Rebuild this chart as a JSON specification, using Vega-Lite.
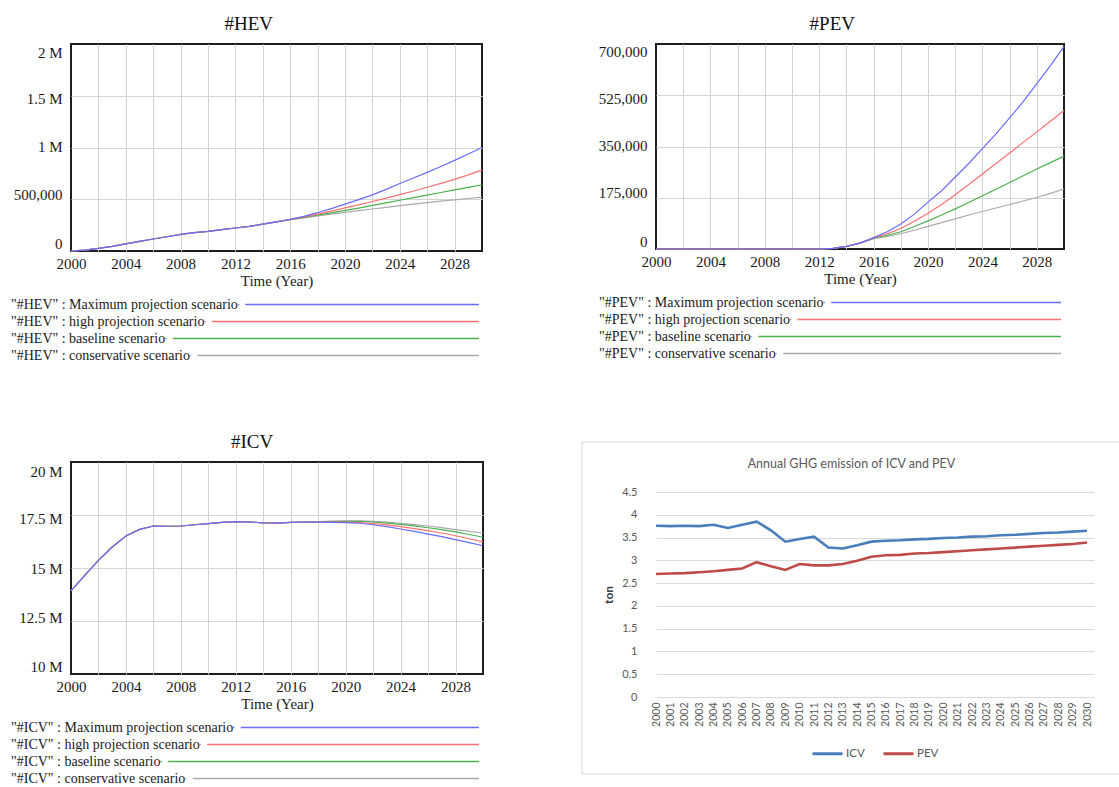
{
  "$schema": "https://vega.github.io/schema/vega-lite/v6.json",
  "background": "white",
  "padding": {"left": 10, "top": 14, "right": 0, "bottom": 0},
  "config": {
    "view": {"stroke": null},
    "axis": {
      "grid": true, "gridColor": "#d4d4d4", "gridWidth": 1, "domain": false, "ticks": false,
      "labelFont": "Liberation Serif", "labelFontSize": 15, "labelColor": "#1a1a1a",
      "titleFont": "Liberation Serif", "titleFontSize": 15, "titleFontWeight": "normal", "titleColor": "#1a1a1a",
      "labelFlush": false, "labelOverlap": false
    },
    "axisX": {"labelPadding": 5, "titlePadding": 2},
    "axisY": {"labelPadding": 9, "minExtent": 0},
    "legend": {"layout": {"bottom": {"anchor": "middle"}}}
  },
  "resolve": {"scale": {"stroke": "independent"}, "legend": {"stroke": "independent"}},
  "datasets": {
    "hev": [
      {"year": 2000, "max": 0, "high": 0, "base": 0, "cons": 0},
      {"year": 2001, "max": 8000, "high": 8000, "base": 8000, "cons": 8000},
      {"year": 2002, "max": 25000, "high": 25000, "base": 25000, "cons": 25000},
      {"year": 2003, "max": 45000, "high": 45000, "base": 45000, "cons": 45000},
      {"year": 2004, "max": 68000, "high": 68000, "base": 68000, "cons": 68000},
      {"year": 2005, "max": 93000, "high": 93000, "base": 93000, "cons": 93000},
      {"year": 2006, "max": 116000, "high": 116000, "base": 116000, "cons": 116000},
      {"year": 2007, "max": 138000, "high": 138000, "base": 138000, "cons": 138000},
      {"year": 2008, "max": 160000, "high": 160000, "base": 160000, "cons": 160000},
      {"year": 2009, "max": 177000, "high": 177000, "base": 177000, "cons": 177000},
      {"year": 2010, "max": 190000, "high": 190000, "base": 190000, "cons": 190000},
      {"year": 2011, "max": 206000, "high": 206000, "base": 206000, "cons": 206000},
      {"year": 2012, "max": 222000, "high": 222000, "base": 222000, "cons": 222000},
      {"year": 2013, "max": 238000, "high": 238000, "base": 238000, "cons": 238000},
      {"year": 2014, "max": 259000, "high": 259000, "base": 259000, "cons": 259000},
      {"year": 2015, "max": 282000, "high": 282000, "base": 282000, "cons": 282000},
      {"year": 2016, "max": 306000, "high": 305000, "base": 303000, "cons": 302000},
      {"year": 2017, "max": 335000, "high": 330000, "base": 325000, "cons": 320000},
      {"year": 2018, "max": 370000, "high": 356000, "base": 346000, "cons": 338000},
      {"year": 2019, "max": 410000, "high": 385000, "base": 369000, "cons": 356000},
      {"year": 2020, "max": 453000, "high": 416000, "base": 392000, "cons": 373000},
      {"year": 2021, "max": 497000, "high": 446000, "base": 415000, "cons": 390000},
      {"year": 2022, "max": 542000, "high": 478000, "base": 440000, "cons": 406000},
      {"year": 2023, "max": 595000, "high": 511000, "base": 465000, "cons": 422000},
      {"year": 2024, "max": 652000, "high": 545000, "base": 490000, "cons": 438000},
      {"year": 2025, "max": 705000, "high": 580000, "base": 515000, "cons": 453000},
      {"year": 2026, "max": 760000, "high": 616000, "base": 540000, "cons": 467000},
      {"year": 2027, "max": 817000, "high": 653000, "base": 565000, "cons": 481000},
      {"year": 2028, "max": 876000, "high": 692000, "base": 590000, "cons": 494000},
      {"year": 2029, "max": 937000, "high": 735000, "base": 615000, "cons": 507000},
      {"year": 2030, "max": 1000000, "high": 782000, "base": 640000, "cons": 520000}
    ],
    "pev": [
      {"year": 2000, "max": 0, "high": 0, "base": 0, "cons": 0},
      {"year": 2001, "max": 0, "high": 0, "base": 0, "cons": 0},
      {"year": 2002, "max": 0, "high": 0, "base": 0, "cons": 0},
      {"year": 2003, "max": 0, "high": 0, "base": 0, "cons": 0},
      {"year": 2004, "max": 0, "high": 0, "base": 0, "cons": 0},
      {"year": 2005, "max": 0, "high": 0, "base": 0, "cons": 0},
      {"year": 2006, "max": 0, "high": 0, "base": 0, "cons": 0},
      {"year": 2007, "max": 0, "high": 0, "base": 0, "cons": 0},
      {"year": 2008, "max": 0, "high": 0, "base": 0, "cons": 0},
      {"year": 2009, "max": 0, "high": 0, "base": 0, "cons": 0},
      {"year": 2010, "max": 0, "high": 0, "base": 0, "cons": 0},
      {"year": 2011, "max": 0, "high": 0, "base": 0, "cons": 0},
      {"year": 2012, "max": 0, "high": 0, "base": 0, "cons": 0},
      {"year": 2013, "max": 2000, "high": 2000, "base": 2000, "cons": 2000},
      {"year": 2014, "max": 9000, "high": 9000, "base": 9000, "cons": 9000},
      {"year": 2015, "max": 20000, "high": 20000, "base": 20000, "cons": 20000},
      {"year": 2016, "max": 39000, "high": 38000, "base": 36000, "cons": 35000},
      {"year": 2017, "max": 59000, "high": 52000, "base": 47000, "cons": 43000},
      {"year": 2018, "max": 85000, "high": 70000, "base": 59000, "cons": 52000},
      {"year": 2019, "max": 119000, "high": 95000, "base": 77000, "cons": 64000},
      {"year": 2020, "max": 160000, "high": 122000, "base": 96000, "cons": 77000},
      {"year": 2021, "max": 199000, "high": 152000, "base": 116000, "cons": 90000},
      {"year": 2022, "max": 246000, "high": 185000, "base": 137000, "cons": 103000},
      {"year": 2023, "max": 292000, "high": 220000, "base": 159000, "cons": 116000},
      {"year": 2024, "max": 343000, "high": 256000, "base": 182000, "cons": 128000},
      {"year": 2025, "max": 393000, "high": 292000, "base": 204000, "cons": 140000},
      {"year": 2026, "max": 448000, "high": 328000, "base": 227000, "cons": 152000},
      {"year": 2027, "max": 503000, "high": 364000, "base": 250000, "cons": 164000},
      {"year": 2028, "max": 565000, "high": 400000, "base": 273000, "cons": 176000},
      {"year": 2029, "max": 626000, "high": 436000, "base": 295000, "cons": 190000},
      {"year": 2030, "max": 691000, "high": 473000, "base": 317000, "cons": 205000}
    ],
    "icv": [
      {"year": 2000, "max": 13920000, "high": 13920000, "base": 13920000, "cons": 13920000},
      {"year": 2001, "max": 14650000, "high": 14650000, "base": 14650000, "cons": 14650000},
      {"year": 2002, "max": 15360000, "high": 15360000, "base": 15360000, "cons": 15360000},
      {"year": 2003, "max": 15990000, "high": 15990000, "base": 15990000, "cons": 15990000},
      {"year": 2004, "max": 16510000, "high": 16510000, "base": 16510000, "cons": 16510000},
      {"year": 2005, "max": 16820000, "high": 16820000, "base": 16820000, "cons": 16820000},
      {"year": 2006, "max": 16980000, "high": 16980000, "base": 16980000, "cons": 16980000},
      {"year": 2007, "max": 16970000, "high": 16970000, "base": 16970000, "cons": 16970000},
      {"year": 2008, "max": 16980000, "high": 16980000, "base": 16980000, "cons": 16980000},
      {"year": 2009, "max": 17040000, "high": 17040000, "base": 17040000, "cons": 17040000},
      {"year": 2010, "max": 17090000, "high": 17090000, "base": 17090000, "cons": 17090000},
      {"year": 2011, "max": 17150000, "high": 17150000, "base": 17150000, "cons": 17150000},
      {"year": 2012, "max": 17190000, "high": 17190000, "base": 17190000, "cons": 17190000},
      {"year": 2013, "max": 17170000, "high": 17170000, "base": 17170000, "cons": 17170000},
      {"year": 2014, "max": 17130000, "high": 17130000, "base": 17130000, "cons": 17130000},
      {"year": 2015, "max": 17120000, "high": 17120000, "base": 17120000, "cons": 17120000},
      {"year": 2016, "max": 17150000, "high": 17150000, "base": 17150000, "cons": 17150000},
      {"year": 2017, "max": 17170000, "high": 17170000, "base": 17170000, "cons": 17170000},
      {"year": 2018, "max": 17160000, "high": 17170000, "base": 17180000, "cons": 17190000},
      {"year": 2019, "max": 17150000, "high": 17160000, "base": 17190000, "cons": 17210000},
      {"year": 2020, "max": 17140000, "high": 17160000, "base": 17200000, "cons": 17220000},
      {"year": 2021, "max": 17110000, "high": 17140000, "base": 17200000, "cons": 17220000},
      {"year": 2022, "max": 17040000, "high": 17100000, "base": 17170000, "cons": 17200000},
      {"year": 2023, "max": 16950000, "high": 17030000, "base": 17120000, "cons": 17160000},
      {"year": 2024, "max": 16840000, "high": 16950000, "base": 17060000, "cons": 17110000},
      {"year": 2025, "max": 16730000, "high": 16860000, "base": 16990000, "cons": 17050000},
      {"year": 2026, "max": 16600000, "high": 16760000, "base": 16900000, "cons": 16980000},
      {"year": 2027, "max": 16480000, "high": 16650000, "base": 16810000, "cons": 16900000},
      {"year": 2028, "max": 16340000, "high": 16520000, "base": 16700000, "cons": 16810000},
      {"year": 2029, "max": 16200000, "high": 16380000, "base": 16580000, "cons": 16730000},
      {"year": 2030, "max": 16050000, "high": 16230000, "base": 16450000, "cons": 16650000}
    ],
    "ghg": [
      {"year": 2000, "ICV": 3.76, "PEV": 2.70},
      {"year": 2001, "ICV": 3.75, "PEV": 2.71},
      {"year": 2002, "ICV": 3.76, "PEV": 2.72},
      {"year": 2003, "ICV": 3.75, "PEV": 2.74},
      {"year": 2004, "ICV": 3.78, "PEV": 2.76},
      {"year": 2005, "ICV": 3.71, "PEV": 2.79},
      {"year": 2006, "ICV": 3.78, "PEV": 2.82},
      {"year": 2007, "ICV": 3.85, "PEV": 2.96},
      {"year": 2008, "ICV": 3.66, "PEV": 2.87},
      {"year": 2009, "ICV": 3.41, "PEV": 2.79},
      {"year": 2010, "ICV": 3.47, "PEV": 2.92},
      {"year": 2011, "ICV": 3.52, "PEV": 2.89},
      {"year": 2012, "ICV": 3.28, "PEV": 2.89},
      {"year": 2013, "ICV": 3.26, "PEV": 2.92},
      {"year": 2014, "ICV": 3.33, "PEV": 2.99},
      {"year": 2015, "ICV": 3.41, "PEV": 3.08},
      {"year": 2016, "ICV": 3.43, "PEV": 3.11},
      {"year": 2017, "ICV": 3.44, "PEV": 3.12},
      {"year": 2018, "ICV": 3.46, "PEV": 3.15},
      {"year": 2019, "ICV": 3.47, "PEV": 3.16},
      {"year": 2020, "ICV": 3.49, "PEV": 3.18},
      {"year": 2021, "ICV": 3.50, "PEV": 3.20},
      {"year": 2022, "ICV": 3.52, "PEV": 3.22},
      {"year": 2023, "ICV": 3.53, "PEV": 3.24},
      {"year": 2024, "ICV": 3.55, "PEV": 3.26},
      {"year": 2025, "ICV": 3.56, "PEV": 3.28},
      {"year": 2026, "ICV": 3.58, "PEV": 3.30},
      {"year": 2027, "ICV": 3.60, "PEV": 3.32},
      {"year": 2028, "ICV": 3.61, "PEV": 3.34},
      {"year": 2029, "ICV": 3.63, "PEV": 3.36},
      {"year": 2030, "ICV": 3.65, "PEV": 3.39}
    ]
  },
  "hconcat": [
    {
      "vconcat": [
        {
          "vconcat": [
            {
              "width": 411, "height": 207,
              "view": {"stroke": "#1e1e1e", "strokeWidth": 2},
              "title": {"text": "#HEV", "font": "Liberation Serif", "fontSize": 19, "fontWeight": "normal", "color": "#111111", "baseline": "bottom", "offset": -9, "frame": "bounds"},
              "data": {"name": "hev"},
              "transform": [{"fold": ["cons", "base", "high", "max"], "as": ["scenario", "value"]}],
              "mark": {"type": "line", "strokeWidth": 1.2},
              "encoding": {
                "x": {"field": "year", "type": "quantitative", "scale": {"domain": [2000, 2030], "nice": false, "zero": false},
                  "axis": {"values": [2000, 2002, 2004, 2006, 2008, 2010, 2012, 2014, 2016, 2018, 2020, 2022, 2024, 2026, 2028, 2030], "format": "d",
                    "labelExpr": "datum.value % 4 == 0 && datum.value < 2030 ? datum.label : ''", "title": "Time (Year)",
                    "gridOpacity": {"condition": {"test": "datum.value == 2000 || datum.value == 2030", "value": 0}, "value": 1}}},
                "y": {"field": "value", "type": "quantitative", "scale": {"domain": [0, 2000000], "nice": false},
                  "axis": {"values": [0, 500000, 1000000, 1500000, 2000000], "title": null,
                    "labelExpr": "datum.value >= 1000000 ? format(datum.value / 1000000, '~g') + ' M' : format(datum.value, ',')",
                    "labelOffset": {"condition": [{"test": "datum.value == 2000000", "value": 8}, {"test": "datum.value == 1500000", "value": 3}, {"test": "datum.value == 1000000", "value": -1}, {"test": "datum.value == 500000", "value": -5}], "value": -8},
                    "gridOpacity": {"condition": {"test": "datum.value == 0 || datum.value == 2000000", "value": 0}, "value": 1}}},
                "color": {"field": "scenario", "type": "nominal", "scale": {"domain": ["max", "high", "base", "cons"], "range": ["#6b6bff", "#ff7070", "#4caf50", "#aaaaaa"]}, "legend": null}
              }
            },
            {
              "width": 408, "height": 68,
              "data": {"values": [
                {"label": "\"#HEV\" : Maximum projection scenario", "scenario": "max"},
                {"label": "\"#HEV\" : high projection scenario", "scenario": "high"},
                {"label": "\"#HEV\" : baseline scenario", "scenario": "base"},
                {"label": "\"#HEV\" : conservative scenario", "scenario": "cons"}
              ]},
              "encoding": {
                "y": {"field": "label", "type": "nominal", "sort": null, "axis": null, "scale": {"paddingInner": 0, "paddingOuter": 0}},
                "x": {"datum": -0.147, "type": "quantitative", "scale": {"domain": [0, 1], "nice": false, "zero": false}, "axis": null}
              },
              "layer": [
                {"mark": {"type": "rule", "strokeWidth": 1.3}, "encoding": {"x2": {"datum": 1}, "color": {"field": "scenario", "type": "nominal", "scale": {"domain": ["max", "high", "base", "cons"], "range": ["#6b6bff", "#ff7070", "#4caf50", "#aaaaaa"]}, "legend": null}}},
                {"mark": {"type": "text", "align": "left", "baseline": "middle", "font": "Liberation Serif", "fontSize": 14, "fill": "white", "stroke": "white", "strokeWidth": 16, "strokeJoin": "round"}, "encoding": {"text": {"field": "label"}}},
                {"mark": {"type": "text", "align": "left", "baseline": "middle", "font": "Liberation Serif", "fontSize": 14, "fill": "#1a1a1a"}, "encoding": {"text": {"field": "label"}}}
              ]
            }
          ],
          "spacing": 7
        },
        {
          "vconcat": [
            {
              "width": 412, "height": 212,
              "view": {"stroke": "#1e1e1e", "strokeWidth": 2},
              "title": {"text": "#ICV", "font": "Liberation Serif", "fontSize": 19, "fontWeight": "normal", "color": "#111111", "baseline": "bottom", "offset": -9, "frame": "bounds"},
              "data": {"name": "icv"},
              "transform": [{"fold": ["cons", "base", "high", "max"], "as": ["scenario", "value"]}],
              "mark": {"type": "line", "strokeWidth": 1.2},
              "encoding": {
                "x": {"field": "year", "type": "quantitative", "scale": {"domain": [2000, 2030], "nice": false, "zero": false},
                  "axis": {"values": [2000, 2002, 2004, 2006, 2008, 2010, 2012, 2014, 2016, 2018, 2020, 2022, 2024, 2026, 2028, 2030], "format": "d",
                    "labelExpr": "datum.value % 4 == 0 && datum.value < 2030 ? datum.label : ''", "title": "Time (Year)",
                    "gridOpacity": {"condition": {"test": "datum.value == 2000 || datum.value == 2030", "value": 0}, "value": 1}}},
                "y": {"field": "value", "type": "quantitative", "scale": {"domain": [10000000, 20000000], "nice": false, "zero": false},
                  "axis": {"values": [10000000, 12500000, 15000000, 17500000, 20000000], "title": null,
                    "labelExpr": "format(datum.value / 1000000, '~g') + ' M'",
                    "labelOffset": {"condition": [{"test": "datum.value == 20000000", "value": 9}, {"test": "datum.value == 17500000", "value": 3}, {"test": "datum.value == 15000000", "value": 0}, {"test": "datum.value == 12500000", "value": -4}], "value": -8},
                    "gridOpacity": {"condition": {"test": "datum.value == 10000000 || datum.value == 20000000", "value": 0}, "value": 1}}},
                "color": {"field": "scenario", "type": "nominal", "scale": {"domain": ["max", "high", "base", "cons"], "range": ["#6b6bff", "#ff7070", "#4caf50", "#aaaaaa"]}, "legend": null}
              }
            },
            {
              "width": 408, "height": 68,
              "data": {"values": [
                {"label": "\"#ICV\" : Maximum projection scenario", "scenario": "max"},
                {"label": "\"#ICV\" : high projection scenario", "scenario": "high"},
                {"label": "\"#ICV\" : baseline scenario", "scenario": "base"},
                {"label": "\"#ICV\" : conservative scenario", "scenario": "cons"}
              ]},
              "encoding": {
                "y": {"field": "label", "type": "nominal", "sort": null, "axis": null, "scale": {"paddingInner": 0, "paddingOuter": 0}},
                "x": {"datum": -0.147, "type": "quantitative", "scale": {"domain": [0, 1], "nice": false, "zero": false}, "axis": null}
              },
              "layer": [
                {"mark": {"type": "rule", "strokeWidth": 1.3}, "encoding": {"x2": {"datum": 1}, "color": {"field": "scenario", "type": "nominal", "scale": {"domain": ["max", "high", "base", "cons"], "range": ["#6b6bff", "#ff7070", "#4caf50", "#aaaaaa"]}, "legend": null}}},
                {"mark": {"type": "text", "align": "left", "baseline": "middle", "font": "Liberation Serif", "fontSize": 14, "fill": "white", "stroke": "white", "strokeWidth": 16, "strokeJoin": "round"}, "encoding": {"text": {"field": "label"}}},
                {"mark": {"type": "text", "align": "left", "baseline": "middle", "font": "Liberation Serif", "fontSize": 14, "fill": "#1a1a1a"}, "encoding": {"text": {"field": "label"}}}
              ]
            }
          ],
          "spacing": 7
        }
      ],
      "spacing": 68
    },
    {
      "vconcat": [
        {
          "vconcat": [
            {
              "width": 408, "height": 205,
              "view": {"stroke": "#1e1e1e", "strokeWidth": 2},
              "title": {"text": "#PEV", "font": "Liberation Serif", "fontSize": 19, "fontWeight": "normal", "color": "#111111", "baseline": "bottom", "offset": -9, "frame": "bounds"},
              "data": {"name": "pev"},
              "transform": [{"fold": ["cons", "base", "high", "max"], "as": ["scenario", "value"]}],
              "mark": {"type": "line", "strokeWidth": 1.2},
              "encoding": {
                "x": {"field": "year", "type": "quantitative", "scale": {"domain": [2000, 2030], "nice": false, "zero": false},
                  "axis": {"values": [2000, 2002, 2004, 2006, 2008, 2010, 2012, 2014, 2016, 2018, 2020, 2022, 2024, 2026, 2028, 2030], "format": "d",
                    "labelExpr": "datum.value % 4 == 0 && datum.value < 2030 ? datum.label : ''", "title": "Time (Year)",
                    "gridOpacity": {"condition": {"test": "datum.value == 2000 || datum.value == 2030", "value": 0}, "value": 1}}},
                "y": {"field": "value", "type": "quantitative", "scale": {"domain": [0, 700000], "nice": false},
                  "axis": {"values": [0, 175000, 350000, 525000, 700000], "title": null,
                    "labelExpr": "format(datum.value, ',')",
                    "labelOffset": {"condition": [{"test": "datum.value == 700000", "value": 7}, {"test": "datum.value == 525000", "value": 3}, {"test": "datum.value == 350000", "value": -1}, {"test": "datum.value == 175000", "value": -5}], "value": -8},
                    "gridOpacity": {"condition": {"test": "datum.value == 0 || datum.value == 700000", "value": 0}, "value": 1}}},
                "color": {"field": "scenario", "type": "nominal", "scale": {"domain": ["max", "high", "base", "cons"], "range": ["#6b6bff", "#ff7070", "#4caf50", "#aaaaaa"]}, "legend": null}
              }
            },
            {
              "width": 405, "height": 68,
              "data": {"values": [
                {"label": "\"#PEV\" : Maximum projection scenario", "scenario": "max"},
                {"label": "\"#PEV\" : high projection scenario", "scenario": "high"},
                {"label": "\"#PEV\" : baseline scenario", "scenario": "base"},
                {"label": "\"#PEV\" : conservative scenario", "scenario": "cons"}
              ]},
              "encoding": {
                "y": {"field": "label", "type": "nominal", "sort": null, "axis": null, "scale": {"paddingInner": 0, "paddingOuter": 0}},
                "x": {"datum": -0.1407, "type": "quantitative", "scale": {"domain": [0, 1], "nice": false, "zero": false}, "axis": null}
              },
              "layer": [
                {"mark": {"type": "rule", "strokeWidth": 1.3}, "encoding": {"x2": {"datum": 1}, "color": {"field": "scenario", "type": "nominal", "scale": {"domain": ["max", "high", "base", "cons"], "range": ["#6b6bff", "#ff7070", "#4caf50", "#aaaaaa"]}, "legend": null}}},
                {"mark": {"type": "text", "align": "left", "baseline": "middle", "font": "Liberation Serif", "fontSize": 14, "fill": "white", "stroke": "white", "strokeWidth": 16, "strokeJoin": "round"}, "encoding": {"text": {"field": "label"}}},
                {"mark": {"type": "text", "align": "left", "baseline": "middle", "font": "Liberation Serif", "fontSize": 14, "fill": "#1a1a1a"}, "encoding": {"text": {"field": "label"}}}
              ]
            }
          ],
          "spacing": 7
        },
        {
          "width": 438, "height": 205,
          "title": {"text": "Annual GHG emission of ICV and PEV", "font": "Lato", "fontSize": 12.5, "fontWeight": "normal", "color": "#595959", "baseline": "bottom", "offset": -42, "frame": "bounds"},
          "layer": [
            {
              "data": {"values": [{"box": "chart area"}]},
              "mark": {"type": "rect", "fillOpacity": 0, "fill": "white", "stroke": "#d9d9d9", "strokeWidth": 1, "clip": false},
              "encoding": {
                "x": {"datum": 1994.85, "type": "quantitative", "scale": {"domain": [2000, 2030.487], "nice": false, "zero": false},
                  "axis": {"values": [2000, 2001, 2002, 2003, 2004, 2005, 2006, 2007, 2008, 2009, 2010, 2011, 2012, 2013, 2014, 2015, 2016, 2017, 2018, 2019, 2020, 2021, 2022, 2023, 2024, 2025, 2026, 2027, 2028, 2029, 2030],
                    "format": "d", "labelAngle": 270, "grid": false, "labelPadding": 5, "title": null, "labelOverlap": false, "labelSeparation": 0,
                    "labelFont": "Lato", "labelFontSize": 10.5, "labelColor": "#595959"}},
                "x2": {"datum": 2032.36},
                "y": {"datum": -1.69, "type": "quantitative", "scale": {"domain": [0, 4.5], "nice": false, "zero": false},
                  "axis": {"values": [0, 0.5, 1, 1.5, 2, 2.5, 3, 3.5, 4, 4.5], "format": "~g", "grid": true, "gridColor": "#d9d9d9", "labelPadding": 19, "labelOverlap": false,
                    "labelFont": "Lato", "labelFontSize": 11, "labelColor": "#595959",
                    "title": "ton", "titleFont": "Lato", "titleFontSize": 12, "titleFontWeight": "bold", "titleColor": "#404040", "titlePadding": 6}},
                "y2": {"datum": 5.5976}
              }
            },
            {
              "data": {"name": "ghg"},
              "transform": [{"fold": ["ICV", "PEV"], "as": ["series", "ton"]}],
              "mark": {"type": "line", "strokeWidth": 2.6},
              "encoding": {
                "x": {"field": "year", "type": "quantitative", "scale": {"domain": [2000, 2030.487], "nice": false, "zero": false},
                  "axis": {"values": [2000, 2001, 2002, 2003, 2004, 2005, 2006, 2007, 2008, 2009, 2010, 2011, 2012, 2013, 2014, 2015, 2016, 2017, 2018, 2019, 2020, 2021, 2022, 2023, 2024, 2025, 2026, 2027, 2028, 2029, 2030],
                    "format": "d", "labelAngle": 270, "grid": false, "labelPadding": 5, "title": null, "labelOverlap": false, "labelSeparation": 0,
                    "labelFont": "Lato", "labelFontSize": 10.5, "labelColor": "#595959"}},
                "y": {"field": "ton", "type": "quantitative", "scale": {"domain": [0, 4.5], "nice": false, "zero": false},
                  "axis": {"values": [0, 0.5, 1, 1.5, 2, 2.5, 3, 3.5, 4, 4.5], "format": "~g", "grid": true, "gridColor": "#d9d9d9", "labelPadding": 19, "labelOverlap": false,
                    "labelFont": "Lato", "labelFontSize": 11, "labelColor": "#595959",
                    "title": "ton", "titleFont": "Lato", "titleFontSize": 12, "titleFontWeight": "bold", "titleColor": "#404040", "titlePadding": 6}},
                "stroke": {"field": "series", "type": "nominal", "scale": {"domain": ["ICV", "PEV"], "range": ["#4a7ebb", "#be4b48"]},
                  "legend": {"orient": "bottom", "direction": "horizontal", "title": null, "offset": 10, "symbolType": "stroke", "symbolSize": 900, "symbolStrokeWidth": 3,
                    "labelFont": "Lato", "labelFontSize": 11.5, "labelColor": "#595959", "columnPadding": 12, "labelOffset": 2}}
              }
            }
          ]
        }
      ],
      "spacing": 79,
      "resolve": {"scale": {"stroke": "independent"}, "legend": {"stroke": "independent"}}
    }
  ],
  "spacing": 94
}
